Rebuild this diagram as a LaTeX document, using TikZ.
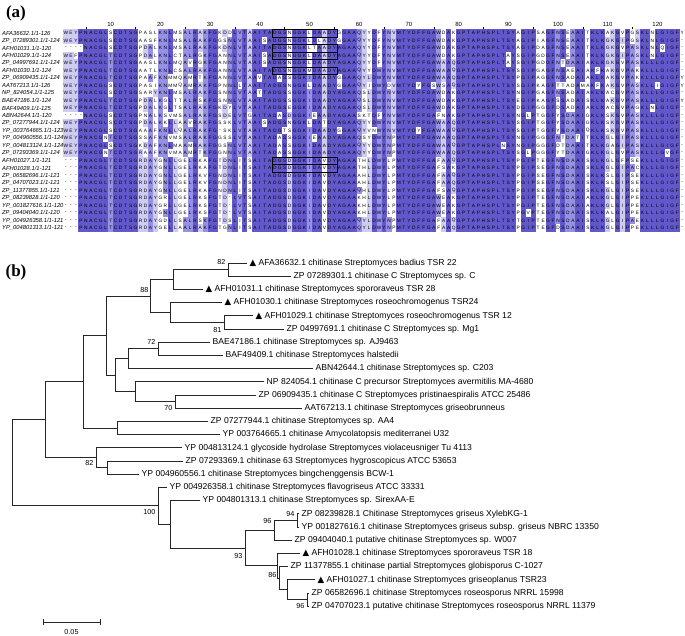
\documentclass[tikz,border=0pt]{standalone}
\usepackage{fontspec}
\setmainfont{Liberation Sans}
\newfontfamily\labserif{Liberation Serif}
\newfontfamily\dejavu{DejaVu Sans}
\definecolor{pidA}{RGB}{98,88,204}
\definecolor{pidB}{RGB}{150,145,228}
\definecolor{pidC}{RGB}{206,204,242}
\newcommand\alnfont{\fontsize{4.8}{5}\selectfont}
\newcommand\tri{{\dejavu\fontsize{8.6}{9}\selectfont ▲}\ }

\ExplSyntaxOn
\seq_new:N \g_aln_seq
\tl_new:N \l_aln_tmp_tl
\tl_new:N \l_aln_char_tl
\tl_new:N \l_aln_cons_tl
\tl_new:N \l_aln_col_tl
\tl_new:N \l_aln_rowseq_tl
\int_new:N \l_aln_max_int
\int_new:N \l_aln_pct_int
\int_new:N \g_aln_row_int
\dim_new:N \l_aln_x_dim
\dim_new:N \l_aln_y_dim
\dim_new:N \l_aln_xa_dim
\dim_new:N \l_aln_ya_dim
\clist_const:Nn \c_aln_letters_clist {A,C,D,E,F,G,H,I,K,L,M,N,P,Q,R,S,T,V,W,Y}

\NewDocumentCommand \alnrow { m }
 {
  \tl_set:Nn \l_aln_tmp_tl {#1}
  \tl_remove_all:Nn \l_aln_tmp_tl {|}
  \seq_gput_right:NV \g_aln_seq \l_aln_tmp_tl
 }
\cs_new_protected:Npn \aln_zero:n #1 { \int_zero_new:c { l_aln_cnt_ #1 _int } }
\cs_new_protected:Npn \aln_count_column:n #1
 {
  \clist_map_function:NN \c_aln_letters_clist \aln_zero:n
  \seq_map_inline:Nn \g_aln_seq
   {
    \tl_set:Nx \l_aln_char_tl { \str_item:nn {##1} {#1} }
    \int_if_exist:cT { l_aln_cnt_ \l_aln_char_tl _int }
     { \int_incr:c { l_aln_cnt_ \l_aln_char_tl _int } }
   }
  \int_zero:N \l_aln_max_int
  \tl_clear:N \l_aln_cons_tl
  \clist_map_inline:Nn \c_aln_letters_clist
   {
    \int_compare:nNnT { \int_use:c { l_aln_cnt_ ##1 _int } } > { \l_aln_max_int }
     {
      \int_set:Nn \l_aln_max_int { \int_use:c { l_aln_cnt_ ##1 _int } }
      \tl_set:Nn \l_aln_cons_tl {##1}
     }
   }
  \tl_gclear_new:c { g_aln_cons_ #1 _tl }
  \tl_gset:cx { g_aln_cons_ #1 _tl } { \tl_to_str:N \l_aln_cons_tl }
  \int_gzero_new:c { g_aln_pct_ #1 _int }
  \int_gset:cn { g_aln_pct_ #1 _int } { \l_aln_max_int * 100 / \seq_count:N \g_aln_seq }
 }
\cs_new_protected:Npn \aln_draw_cell:n #1
 {
  \tl_set:Nx \l_aln_char_tl { \str_item:Nn \l_aln_rowseq_tl {#1} }
  \dim_set:Nn \l_aln_x_dim { \fp_eval:n { 66 + (#1 - 1) * 4.97 } pt }
  \dim_set:Nn \l_aln_y_dim { \fp_eval:n { -(33 + (\int_use:N \g_aln_row_int - 1) * 7.5) } pt }
  \tl_clear:N \l_aln_col_tl
  \str_if_eq:eeT { \l_aln_char_tl } { \tl_use:c { g_aln_cons_ #1 _tl } }
   {
    \int_set:Nn \l_aln_pct_int { \int_use:c { g_aln_pct_ #1 _int } }
    \int_compare:nNnTF \l_aln_pct_int > { 80 }
     { \tl_set:Nn \l_aln_col_tl { pidA } }
     {
      \int_compare:nNnTF \l_aln_pct_int > { 60 }
       { \tl_set:Nn \l_aln_col_tl { pidB } }
       {
        \int_compare:nNnT \l_aln_pct_int > { 40 }
         { \tl_set:Nn \l_aln_col_tl { pidC } }
       }
     }
   }
  \tl_if_empty:NF \l_aln_col_tl
   {
    \dim_set:Nn \l_aln_xa_dim { \l_aln_x_dim - 2.56pt }
    \dim_set:Nn \l_aln_ya_dim { \l_aln_y_dim - 3.8pt }
    \pgfscope
    \pgfsetfillcolor { \l_aln_col_tl }
    \pgfpathrectangle { \pgfqpoint { \l_aln_xa_dim } { \l_aln_ya_dim } } { \pgfqpoint { 5.12pt } { 7.6pt } }
    \pgfusepath { fill }
    \endpgfscope
   }
  \tl_if_empty:NF \l_aln_char_tl
   {
    \pgftext [ at = \pgfqpoint { \l_aln_x_dim } { \l_aln_y_dim } ] { \alnfont \l_aln_char_tl }
   }
 }
\cs_new_protected:Npn \aln_draw:
 {
  \int_step_function:nN { 125 } \aln_count_column:n
  \int_gzero:N \g_aln_row_int
  \seq_map_inline:Nn \g_aln_seq
   {
    \int_gincr:N \g_aln_row_int
    \tl_set:Nn \l_aln_rowseq_tl {##1}
    \int_step_function:nN { 125 } \aln_draw_cell:n
   }
 }
\NewDocumentCommand \alndraw { } { \aln_draw: }
\ExplSyntaxOff

\alnrow{WEY|PNACGLSCDTSG|PASLKNLMSALRAKFG|KDDLVTAAITADGSNGGKLDAADY|GGAAQYYDFYNVMTYDFFGAWDAK|GPTAPHSPLTSYAGIPSAGFN|SEAAITKLKAKGVPGSKLNLGIGFY}
\alnrow{WEY|PNACGLSCDTSG|AASFKNLMSALRAKFG|GSNLVTAAISADGSNGGKLDLADY|GGAAQYYDFYNVMTYDFFGAWDAK|GPTAPHSPLTSYAGIPIAGFN|SEAAITKLKGKGIPGSKLNLGIGF-}
\alnrow{---|-NACGLSCDTSG|PDALKNLMSALRAKFG|KDNLVTAAITADGSNGGKLTAADY|AGAAQYYDFYNVMTYDFFGAWDAK|GPTAPHSPLTSYAGIPDAGFN|SEAAITKLKGKGVPASKLNLQIGF-}
\alnrow{WEF|PNACGLTCDTSG|PDALKNLCTALRGKFG|ANNLVTAAISADGSNGGKLDAADY|AGAAQYYDFYNVMTYDFFGAWDAK|GPTAPHSPLTAYSGIPGDGFN|SEAAITKLKGKGIPASKLNLGIGF-}
\alnrow{WEY|PNACGLTCDTSG|AASLKNLMQAVRGKFG|ANNLVTAAISADGSNGGKLDAADY|AGAAQYYDFYNVMTYDFFGAWAAQ|GPTAPHSPLTAYSGIPGDGFN|TDAAIAKLKGKGVPASKLLLGIGF-}
\alnrow{WEY|PNACGLTCDTSG|AATLKNLCSALRAKFG|ANNLVTAAITADGSNGGKMDAADY|AGAAQYYDWYNVMTYDFFGAWAAQ|GPTAPHSPLTSYSGIPGAGFN|SAEAIAKFKAKGVPAKKLLLGIGF-}
\alnrow{WEY|PNACGLTCDTSG|PAAFKNMMQAMRTKFG|ANNLVTAAVTADASSGGKIDAADY|GGAAQYLDWYNVMTYDFFGAWAAQ|GPTAPHSPLTSYPGIPAGGFN|SADAIAKLKAKGVPAKKLLLGIGFY}
\alnrow{WEY|PNACGLSCDTSG|PASIKNMMQAMRAKFG|PNNLLTAAITADGSNGGKLDAADY|GGAAQYIDWYDVMTYDYFGSWSAQ|GPTAPHSPLTSYSGIPKAGFT|TADAMAKFKAKGVPASKLLIGIGFY}
\alnrow{WEY|PNACGLSCDTSG|SARYKNLMSALRAKFG|SNNLVTAATTADGSSGGKIDAADY|AGAAQSLDWYNVMTYDFFGAWDAK|GPTAPHSPLTSYNGIPGAGFN|SADAIAKLKACGVPASKLLLGIGF-}
\alnrow{WEY|PNACGLTCDTSG|PDALKGLTTALRSKFG|SNNLVTAAITADGSSGGKIDAADY|AGAAQSLDWYNVMTYDFFGAWDAK|GPTAPHSPLTSYEGIPKAGFS|SADAISKLKAKGVPASKLLLGIGFY}
\alnrow{WEY|PNACGLTCDTSG|PDALKGLTSALRAKFG|KDYLVTAAITADGSEGGKIDAADY|AGAAQSLDWYNVMTYDFFGAWDAK|GPTAPHSPLTSYDGIPGGGFD|SADAIAKLKACGVPAGKLNLGIGF-}
\alnrow{---|-NACGLSCDTSG|PNALKSVMSALRAKFG|SDELVTGAITADASDGGKIEAADY|AGAASKTDFYNVMTYDFFGAFNAK|GPTAPHSPLTSYNGLPTGGFY|SDAAIGKLKSKGVPASKLLLGIGF-}
\alnrow{WEY|PNACGLSCDTSG|PDALKKLLAAVRAKFG|SSKLVTAAISADGSNGGKLDATDY|AGAAQYYDWYNVMTYDFFGAWAAQ|GPTAPHSPLTSYSGIPTGGFY|SDAAIGKLKSKGVPASKLLLGIGF-}
\alnrow{WEY|PNACGLSCDTSG|AAAFKNLLQALRAKFG|-SKLVTAAITADGTSGGKIDAADY|GGAAQYVNWYNVMTYDYFGAWAAQ|GPTAPHSPLTSYSGIPTGGFY|SDAAIQKLKSKGVPASKLLLGIGF-}
\alnrow{WEY|PNACGNTCDTSG|SSAFKNVMSALRAKFG|GSSLVTAAITADASSGGKIEAADY|AGAAQSYDWYNPMTYDFFGAWAAQ|GPTAPHSPLTSYNGIPGGGFN|TDATITKLKGLGIPASKLLLGIGF-}
\alnrow{WEY|PNACGLSCDTSG|KDAFKNLMAAMRAKFG|GSNLVTAAITADASSGGKIDAADY|AGAAQYYDWYNPMTYDFFGAWAAQ|GPTAPHSPLNSYNGIPGGGFD|TDAAITKLKGAGIPASKLLLGIGF-}
\alnrow{WEY|PNACGNTCDTSG|RAAFKNVMAAMRTKFG|GNNLVTAAITADASSGGKIDAADY|AGAAQYYDWYNPMTYDFFGAWAAQ|GPTAPHSPLTSYSGLPGGGFY|TDAAIGKLKGLGVPASKLLLGVGF-}
\alnrow{---|PNACGLTCDTSG|RDAYGNLLGELRKAFG|TDNLITSAITADGSDGGKIDAVDY|AGAATHLDWYLPMTYDFFGAFAAQ|GPTAPHSPLTSYPGIPTEGFN|SDAAISKLKGLGFPSEKLLLGIGF-}
\alnrow{---|PNACGLTCDTSG|RDAYGNLLGELRKAFG|TDNLITSAITADGSDGGKIDAVDY|AGAATHLDWYLPMTYDFFGAFSAK|GPTAPHSPLTSYPGIPSEGFN|SDAAISKLKGLGIPACKLLLGIGF-}
\alnrow{---|PNACGLTCDTSG|RDAYGNLLGELRKVFG|NDNLITSAITADGSDGGKIDAVDY|AGAAAHLDWYLPMTYDFFGAFAAQ|GPTAPHSPLTSYPGIPSEGFN|SDAAISKLKSLGIPSEKLLLGIGF-}
\alnrow{---|PNACGLTCDTSG|RDAYGNLLGELRKVFG|NDNLITSAITADGSDGGKIDAVDY|AGAAAHLDWYLPMTYDFFGAFAAQ|GPTAPHSPLTSYPGIPSEGFN|SDAAISKLKSLGIPSEKLLLGIGF-}
\alnrow{---|PNACGLTCDTSG|RDAYGNLLGELRKAFG|NDNLITSAITADGSDGGKIDAVDY|AGAAQHLDWYLPMTYDFFGAFSAQ|GPTAPHSPLTSYPGIPSEGFN|SDAAISKLKGLGIPSEKLLLGIGF-}
\alnrow{---|PNACGLTCDTSG|RDAYGRLLGELRKSFG|TD-LVTSAITADGSDGGKIDAVDY|AGAAKHLDWYLPMTYDFFGAWEAK|GPTAPHSPLTSYPGIPTEGFN|SDAAIAKLKGLGIPPEKLLLGIGF-}
\alnrow{---|PNACGLTCDTSG|RDAYGRLLGELRKSFG|TD-LVTSAITADGSDGGKIDAVDY|AGAAKHLDWYLPMTYDFFGAWEAK|GPTAPHSPLTSYPGIPTEGFN|SDAAIAKLKGLGIPPEKLLLGIGF-}
\alnrow{---|PNACGLTCDTSG|RDAYGNLLGELRKSFG|TD-LVTSAITADGSDGGKIDAVDY|AGAAKHLDWYLPMTYDFFGAWEAK|GPTAPHSPLTSYPGVPTEGFN|SDAAISKLKALGIPPEKLLLGIGF-}
\alnrow{---|PNACGLTCDTSG|RDAYGDLLSALRSKFG|TDSLITSAITADGSDGGKIDAVDY|AGAAQYLDWYNPMTYDFFGAFAAQ|GPTAPHSPLTSYTGIPTEGFN|SDAAISKLKGLGIPAEKLLLGIGF-}
\alnrow{---|PNACGLTCDTSG|RDAYGELLAALRAKFG|TGNLITSAITADGSDGGKIDAVDY|AGAAQYLDWYNPMTYDFFGAFAAQ|GPTAPHSPLTSYPGIPTEGFD|SDAAISKLKGLGIPPEKLLLGIGF-}

\begin{document}
\begin{tikzpicture}[x=1pt,y=-1pt,
  br/.style={line width=0.95pt, draw=black!85, line cap=rect},
  lf/.style={anchor=west, inner xsep=2.5pt, inner ysep=0pt, font=\fontsize{8.6}{10}\selectfont},
  bs/.style={inner sep=0.5pt, font=\fontsize{7.2}{8}\selectfont},
  rl/.style={anchor=west, inner sep=0pt, font=\fontsize{5.8}{6}\selectfont\itshape},
  rn/.style={inner sep=0pt, font=\fontsize{6}{6}\selectfont},
  panel/.style={inner sep=0pt, font=\fontsize{17}{18}\selectfont\labserif\bfseries},
  motif/.style={draw=black, line width=0.5pt}]
\useasboundingbox (0,0) rectangle (685,635);
\fill[white] (0,0) rectangle (685,635);

% ---------- panel (a) ----------
\node[panel] (pa) at (16,13) {(a)};
\foreach \n in {10,20,...,120} \node[rn] (ru\n) at ({66+(\n-1)*4.97},24) {\n};
\foreach \n in {5,15,...,115} \draw[line width=0.4pt] ({66+(\n-1)*4.97},27) -- ({66+(\n-1)*4.97},29);

\alndraw

\foreach \r in {1,3,4,6,18,19}
  \draw[motif] (272.2,{33+(\r-1)*7.5-3.75}) rectangle (336.9,{33+(\r-1)*7.5+3.75});

\node[rl] (n1) at (2,33.0) {AFA36632.1/1-126};
\node[rl] (n2) at (2,40.5) {ZP\_07289301.1/1-124};
\node[rl] (n3) at (2,48.0) {AFH01031.1/1-120};
\node[rl] (n4) at (2,55.5) {AFH01029.1/1-124};
\node[rl] (n5) at (2,63.0) {ZP\_04997691.1/1-124};
\node[rl] (n6) at (2,70.5) {AFH01030.1/1-124};
\node[rl] (n7) at (2,78.0) {ZP\_06909435.1/1-124};
\node[rl] (n8) at (2,85.5) {AAT67213.1/1-126};
\node[rl] (n9) at (2,93.0) {NP\_824054.1/1-125};
\node[rl] (n10) at (2,100.5) {BAE47186.1/1-124};
\node[rl] (n11) at (2,108.0) {BAF49409.1/1-125};
\node[rl] (n12) at (2,115.5) {ABN42644.1/1-120};
\node[rl] (n13) at (2,123.0) {ZP\_07277944.1/1-124};
\node[rl] (n14) at (2,130.5) {YP\_003764665.1/1-123};
\node[rl] (n15) at (2,138.0) {YP\_004960556.1/1-124};
\node[rl] (n16) at (2,145.5) {YP\_004813124.1/1-124};
\node[rl] (n17) at (2,153.0) {ZP\_07293369.1/1-124};
\node[rl] (n18) at (2,160.5) {AFH01027.1/1-121};
\node[rl] (n19) at (2,168.0) {AFH01028.1/1-121};
\node[rl] (n20) at (2,175.5) {ZP\_06582696.1/1-121};
\node[rl] (n21) at (2,183.0) {ZP\_04707023.1/1-121};
\node[rl] (n22) at (2,190.5) {ZP\_11377855.1/1-121};
\node[rl] (n23) at (2,198.0) {ZP\_08239828.1/1-120};
\node[rl] (n24) at (2,205.5) {YP\_001827616.1/1-120};
\node[rl] (n25) at (2,213.0) {ZP\_09404040.1/1-120};
\node[rl] (n26) at (2,220.5) {YP\_004926358.1/1-121};
\node[rl] (n27) at (2,228.0) {YP\_004801313.1/1-121};

% ---------- panel (b) ----------
\node[panel] (pb) at (16,272) {(b)};

\node[lf] (L1) at (247,263.0) {\tri AFA36632.1 chitinase Streptomyces badius TSR 22};
\node[lf] (L2) at (291,276.2) {ZP 07289301.1 chitinase C Streptomyces sp. C};
\node[lf] (L3) at (203,289.4) {\tri AFH01031.1 chitinase Streptomyces spororaveus TSR 28};
\node[lf] (L4) at (222,302.6) {\tri AFH01030.1 chitinase Streptomyces roseochromogenus TSR24};
\node[lf] (L5) at (253,315.8) {\tri AFH01029.1 chitinase Streptomyces roseochromogenus TSR 12};
\node[lf] (L6) at (284,329.0) {ZP 04997691.1 chitinase C Streptomyces sp. Mg1};
\node[lf] (L7) at (210,342.2) {BAE47186.1 chitinase Streptomyces sp. AJ9463};
\node[lf] (L8) at (223,355.4) {BAF49409.1 chitinase Streptomyces halstedii};
\node[lf] (L9) at (313,368.6) {ABN42644.1 chitinase Streptomyces sp. C203};
\node[lf] (L10) at (264,381.8) {NP 824054.1 chitinase C precursor Streptomyces avermitilis MA-4680};
\node[lf] (L11) at (256,395.0) {ZP 06909435.1 chitinase C Streptomyces pristinaespiralis ATCC 25486};
\node[lf] (L12) at (302,408.2) {AAT67213.1 chitinase Streptomyces griseobrunneus};
\node[lf] (L13) at (208,421.4) {ZP 07277944.1 chitinase Streptomyces sp. AA4};
\node[lf] (L14) at (220,434.6) {YP 003764665.1 chitinase Amycolatopsis mediterranei U32};
\node[lf] (L15) at (182,447.8) {YP 004813124.1 glycoside hydrolase Streptomyces violaceusniger Tu 4113};
\node[lf] (L16) at (183,461.0) {ZP 07293369.1 chitinase 63 Streptomyces hygroscopicus ATCC 53653};
\node[lf] (L17) at (139,474.2) {YP 004960556.1 chitinase Streptomyces bingchenggensis BCW-1};
\node[lf] (L18) at (167,487.4) {YP 004926358.1 chitinase Streptomyces flavogriseus ATCC 33331};
\node[lf] (L19) at (200,500.6) {YP 004801313.1 chitinase Streptomyces sp. SirexAA-E};
\node[lf] (L20) at (299,513.8) {ZP 08239828.1 Chitinase Streptomyces griseus XylebKG-1};
\node[lf] (L21) at (299,527.0) {YP 001827616.1 chitinase Streptomyces griseus subsp. griseus NBRC 13350};
\node[lf] (L22) at (292,540.2) {ZP 09404040.1 putative chitinase Streptomyces sp. W007};
\node[lf] (L23) at (300,553.4) {\tri AFH01028.1 chitinase Streptomyces spororaveus TSR 18};
\node[lf] (L24) at (288,566.6) {ZP 11377855.1 chitinase partial Streptomyces globisporus C-1027};
\node[lf] (L25) at (315,579.8) {\tri AFH01027.1 chitinase Streptomyces griseoplanus TSR23};
\node[lf] (L26) at (309,593.0) {ZP 06582696.1 chitinase Streptomyces roseosporus NRRL 15998};
\node[lf] (L27) at (309,606.2) {ZP 04707023.1 putative chitinase Streptomyces roseosporus NRRL 11379};

\coordinate (n82a) at (228,269.6);
\coordinate (n173) at (173,279.5);
\coordinate (n81) at (224,322.4);
\coordinate (n170) at (170,312.5);
\coordinate (n88) at (150,296.0);
\coordinate (n72) at (158,348.8);
\coordinate (n128) at (128,358.7);
\coordinate (n70) at (175,401.6);
\coordinate (n135) at (135,391.7);
\coordinate (n115) at (115,375.2);
\coordinate (n106) at (106,335.6);
\coordinate (n117) at (117,428.0);
\coordinate (n83) at (83,381.8);
\coordinate (n107) at (107,467.6);
\coordinate (n82b) at (96,457.7);
\coordinate (n45) at (45,419.8);
\coordinate (n94) at (297,520.4);
\coordinate (n96a) at (274,530.3);
\coordinate (n96b) at (307,599.6);
\coordinate (n287) at (287,589.7);
\coordinate (n86) at (279,578.2);
\coordinate (n277) at (277,565.8);
\coordinate (n93) at (245,548.0);
\coordinate (n170b) at (170,524.3);
\coordinate (n100) at (158,505.9);
\coordinate (root) at (12,462.8);

\draw[br] (n82a) |- (L1.west) (n82a) |- (L2.west);
\draw[br] (n173) |- (n82a) (n173) |- (L3.west);
\draw[br] (n81) |- (L5.west) (n81) |- (L6.west);
\draw[br] (n170) |- (L4.west) (n170) |- (n81);
\draw[br] (n88) |- (n173) (n88) |- (n170);
\draw[br] (n72) |- (L7.west) (n72) |- (L8.west);
\draw[br] (n128) |- (n72) (n128) |- (L9.west);
\draw[br] (n70) |- (L11.west) (n70) |- (L12.west);
\draw[br] (n135) |- (L10.west) (n135) |- (n70);
\draw[br] (n115) |- (n128) (n115) |- (n135);
\draw[br] (n106) |- (n88) (n106) |- (n115);
\draw[br] (n117) |- (L13.west) (n117) |- (L14.west);
\draw[br] (n83) |- (n106) (n83) |- (n117);
\draw[br] (n107) |- (L16.west) (n107) |- (L17.west);
\draw[br] (n82b) |- (L15.west) (n82b) |- (n107);
\draw[br] (n45) |- (n83) (n45) |- (n82b);
\draw[br] (n94) |- (L20.west) (n94) |- (L21.west);
\draw[br] (n96a) |- (n94) (n96a) |- (L22.west);
\draw[br] (n96b) |- (L26.west) (n96b) |- (L27.west);
\draw[br] (n287) |- (L25.west) (n287) |- (n96b);
\draw[br] (n86) |- (L24.west) (n86) |- (n287);
\draw[br] (n277) |- (L23.west) (n277) |- (n86);
\draw[br] (n93) |- (n96a) (n93) |- (n277);
\draw[br] (n170b) |- (L19.west) (n170b) |- (n93);
\draw[br] (n100) |- (L18.west) (n100) |- (n170b);
\draw[br] (root) |- (n45) (root) |- (n100);

\node[bs, anchor=south east] (b82a) at (226,265) {82};
\node[bs, anchor=east] (b88) at (149,290) {88};
\node[bs, anchor=north east] (b81) at (222,327) {81};
\node[bs, anchor=south east] (b72) at (156,345) {72};
\node[bs, anchor=north east] (b70) at (173,405) {70};
\node[bs, anchor=east] (b82b) at (94,463) {82};
\node[bs, anchor=east] (b100) at (156,512) {100};
\node[bs, anchor=south east] (b94) at (295,517) {94};
\node[bs, anchor=south east] (b96a) at (272,524) {96};
\node[bs, anchor=east] (b93) at (243,556) {93};
\node[bs, anchor=east] (b86) at (277,575) {86};
\node[bs, anchor=north east] (b96b) at (305,603) {96};

\coordinate (sbL) at (43,622);
\coordinate (sbR) at (100,622);
\draw[br] (sbL) -- (sbR);
\draw[br] ([yshift=3pt]sbL) -- ([yshift=-3pt]sbL);
\draw[br] ([yshift=3pt]sbR) -- ([yshift=-3pt]sbR);
\node[bs] (sbt) at (71.5,632) {0.05};
\end{tikzpicture}
\end{document}
